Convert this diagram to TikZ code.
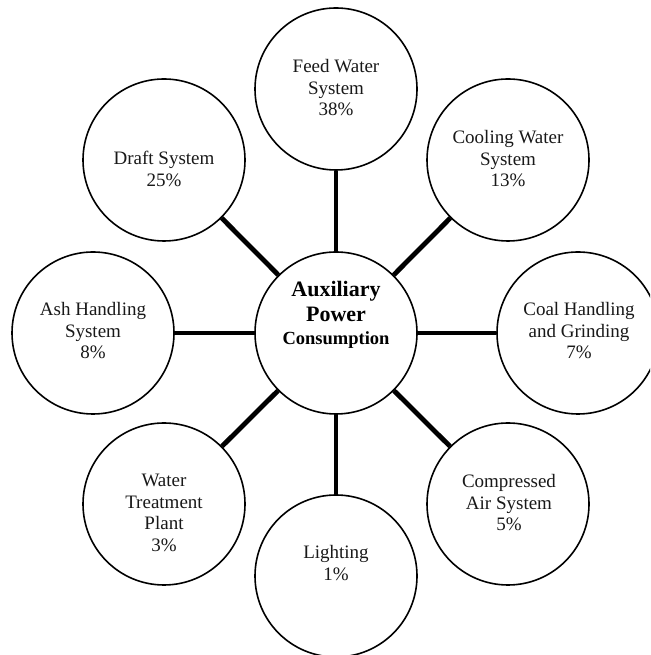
\documentclass[tikz,border=0pt]{standalone}
\usepackage{fontspec}
\setmainfont{Liberation Serif}
\begin{document}
\begin{tikzpicture}[x=1pt,y=1pt,
  bubble/.style={draw=black,line width=1.6pt,circle,minimum size=162pt,inner sep=0pt,fill=white},
  lbl/.style={align=center,font=\fontsize{19}{21.5}\selectfont,text=black!90},
  link/.style={line width=4.8pt,black}]
\useasboundingbox (0,0) rectangle (650,655);
\clip (0,0) rectangle (650,655);
\fill[white] (0,0) rectangle (650,655);
% circles
\node[bubble] (c) at (336,322) {};
\node[bubble] (feed) at (336,566) {};
\node[bubble] (cool) at (508,495) {};
\node[bubble] (coal) at (578,322) {};
\node[bubble] (comp) at (508,151) {};
\node[bubble] (light) at (336,79) {};
\node[bubble] (water) at (164,151) {};
\node[bubble] (ash) at (93,322) {};
\node[bubble] (draft) at (164,495) {};
% connectors
\foreach \n in {feed,cool,coal,comp,light,water,ash,draft}
  \draw[link] (c) -- (\n);
% labels
\node[lbl] (tfeed) at (336,567) {Feed Water\\System\\38\%};
\node[lbl] (tcool) at (508,496) {Cooling Water\\System\\13\%};
\node[lbl] (tcoal) at (579,324) {Coal Handling\\and Grinding\\7\%};
\node[lbl] (tcomp) at (509,152) {Compressed\\Air System\\5\%};
\node[lbl] (tlight) at (336,92) {Lighting\\1\%};
\node[lbl] (twater) at (164,142) {Water\\Treatment\\Plant\\3\%};
\node[lbl] (tash) at (93,324) {Ash Handling\\System\\8\%};
\node[lbl] (tdraft) at (164,486) {Draft System\\25\%};
\node[align=center,font=\fontsize{22}{25.5}\selectfont\bfseries] (tc) at (336,340)
  {Auxiliary\\Power\\[-2.5pt]{\fontsize{18.5}{21}\selectfont Consumption}};
\end{tikzpicture}
\end{document}
